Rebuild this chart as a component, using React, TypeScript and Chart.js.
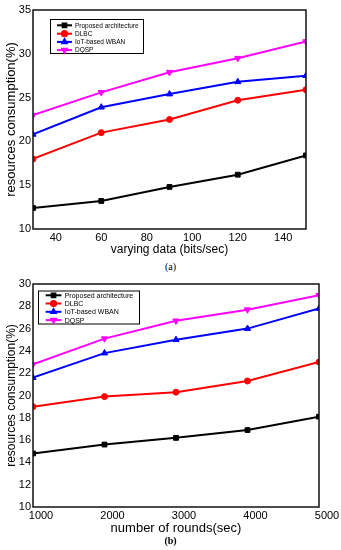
import React, { useEffect, useRef } from "react";
import { Chart, registerables } from "chart.js";
import { drawPoint } from "chart.js/helpers";

Chart.register(...registerables);

const FONT = "'Liberation Sans', Arial, sans-serif";

const seriesLabels = ["Proposed architecture", "DLBC", "IoT-based WBAN", "DQSP"];
const seriesColors = ["#000000", "#ff0000", "#0000ff", "#ff00ff"];
const seriesStyles = ["rect", "circle", "triangle", "triangle"];
const seriesRotations = [0, 0, 0, 180];
const seriesRadii = [3.4, 3, 3.6, 3.6];

// Chart (a)
const xA = [30, 60, 90, 120, 150];
const xTicksA = [40, 60, 80, 100, 120, 140];
const proposedA = [12.4, 13.2, 14.8, 16.2, 18.4];
const dlbcA = [18.0, 21.0, 22.5, 24.7, 25.9];
const iotA = [20.8, 23.9, 25.4, 26.8, 27.5];
const dqspA = [23.0, 25.6, 27.9, 29.5, 31.4];

// Chart (b)
const xB = [1000, 2000, 3000, 4000, 5000];
const proposedB = [14.8, 15.6, 16.2, 16.9, 18.1];
const dlbcB = [19.0, 19.9, 20.3, 21.3, 23.0];
const iotB = [21.6, 23.8, 25.0, 26.0, 27.8];
const dqspB = [22.8, 25.1, 26.7, 27.7, 29.0];

const yTitle = "resources consumption(%)";
const xTitleA = "varying data (bits/sec)";
const xTitleB = "number of rounds(sec)";

const framePlugin = {
  id: "frame",
  afterDraw(chart: any) {
    const { ctx, chartArea: a } = chart;
    ctx.save();
    ctx.strokeStyle = "#111";
    ctx.lineWidth = 1.5;
    ctx.strokeRect(a.left, a.top, a.right - a.left, a.bottom - a.top);
    ctx.restore();
  },
};

const boxLegendPlugin = {
  id: "boxLegend",
  afterDraw(chart: any, _args: any, o: any) {
    const { ctx, chartArea: a } = chart;
    const bx = a.left + o.dx;
    const by = a.top + o.dy;
    ctx.save();
    ctx.fillStyle = "#fff";
    ctx.fillRect(bx, by, o.w, o.h);
    ctx.strokeStyle = "#000";
    ctx.lineWidth = 1;
    ctx.strokeRect(bx + 0.5, by + 0.5, o.w, o.h);
    chart.data.datasets.forEach((ds: any, i: number) => {
      const y = by + o.rows[i];
      ctx.strokeStyle = ds.borderColor;
      ctx.lineWidth = 2;
      ctx.beginPath();
      ctx.moveTo(bx + o.line[0], y);
      ctx.lineTo(bx + o.line[1], y);
      ctx.stroke();
      ctx.fillStyle = ds.borderColor;
      ctx.strokeStyle = ds.borderColor;
      drawPoint(
        ctx,
        { pointStyle: ds.pointStyle, rotation: ds.pointRotation, radius: o.markerR, borderWidth: 1 } as any,
        bx + (o.line[0] + o.line[1]) / 2,
        y
      );
      ctx.fillStyle = "#000";
      ctx.font = `${o.font}px ${FONT}`;
      ctx.textBaseline = "middle";
      ctx.textAlign = "left";
      ctx.fillText(ds.label, bx + o.text, y + 0.5);
    });
    ctx.restore();
  },
};

function buildConfig(p: any) {
  return {
    type: "line",
    data: {
      datasets: seriesLabels.map((label, i) => ({
        label,
        data: p.x.map((x: number, j: number) => ({ x, y: p.series[i][j] })),
        borderColor: seriesColors[i],
        backgroundColor: seriesColors[i],
        pointBackgroundColor: seriesColors[i],
        pointBorderColor: seriesColors[i],
        pointStyle: seriesStyles[i],
        pointRotation: seriesRotations[i],
        pointRadius: seriesRadii[i],
        pointBorderWidth: 1,
        borderWidth: 2,
        tension: 0,
      })),
    },
    options: {
      animation: false,
      responsive: false,
      maintainAspectRatio: false,
      layout: { padding: p.padding },
      plugins: {
        legend: { display: false },
        tooltip: { enabled: false },
        boxLegend: p.legend,
      },
      scales: {
        x: {
          type: "linear",
          min: p.xMin,
          max: p.xMax,
          grid: { display: false, drawTicks: false },
          border: { display: false },
          afterBuildTicks: p.xTicks
            ? (s: any) => {
                s.ticks = p.xTicks.map((v: number) => ({ value: v }));
              }
            : undefined,
          ticks: {
            stepSize: p.xStep,
            autoSkip: false,
            maxRotation: 0,
            padding: 2,
            labelOffset: p.xLabelOffset || 0,
            color: "#000",
            font: { family: FONT, size: 11 },
            callback: (v: any) => String(v),
          },
          title: {
            display: true,
            text: p.xTitle,
            color: "#000",
            font: { family: FONT, size: p.xTitleSize },
          },
          afterFit: (s: any) => {
            s.height = p.xAxisH;
          },
        },
        y: {
          type: "linear",
          min: p.yMin,
          max: p.yMax,
          grid: { display: false, drawTicks: false },
          border: { display: false },
          ticks: {
            stepSize: p.yStep,
            autoSkip: false,
            padding: 2,
            color: "#000",
            font: { family: FONT, size: 11 },
            callback: (v: any) => String(v),
          },
          title: {
            display: true,
            text: yTitle,
            color: "#000",
            font: { family: FONT, size: p.yTitleSize },
          },
          afterFit: (s: any) => {
            s.width = 33;
          },
        },
      },
    },
    plugins: [framePlugin, boxLegendPlugin],
  };
}

function LineChart({ cfg, width, height }: { cfg: any; width: number; height: number }) {
  const ref = useRef<HTMLCanvasElement | null>(null);
  useEffect(() => {
    if (!ref.current) return;
    const chart = new Chart(ref.current, cfg);
    return () => chart.destroy();
  }, [cfg]);
  return <canvas ref={ref} width={width} height={height} style={{ display: "block", width, height }} />;
}

const cfgA = buildConfig({
  x: xA,
  series: [proposedA, dlbcA, iotA, dqspA],
  xMin: 30,
  xMax: 150,
  xTicks: xTicksA,
  yMin: 10,
  yMax: 35,
  yStep: 5,
  xTitle: xTitleA,
  xTitleSize: 12,
  yTitleSize: 13,
  xAxisH: 32,
  padding: { top: 10, right: 35, left: 0, bottom: 0 },
  legend: { dx: 17, dy: 9, w: 93, h: 34, rows: [6.3, 14.7, 22.9, 31.1], line: [7, 22], text: 25, font: 6.5, markerR: 2.6 },
});

const cfgB = buildConfig({
  x: xB,
  series: [proposedB, dlbcB, iotB, dqspB],
  xMin: 1000,
  xMax: 5000,
  xStep: 1000,
  xLabelOffset: 8,
  yMin: 10,
  yMax: 30,
  yStep: 2,
  xTitle: xTitleB,
  xTitleSize: 13,
  yTitleSize: 12,
  xAxisH: 33,
  padding: { top: 14, right: 22, left: 0, bottom: 0 },
  legend: { dx: 5, dy: 6.5, w: 101, h: 33, rows: [4.8, 13, 21.3, 29.6], line: [7.7, 23.4], text: 26.7, font: 7, markerR: 2.6 },
});

export default function App() {
  return (
    <div style={{ position: "fixed", left: 0, top: 0, width: 341, height: 550, background: "#fff", overflow: "hidden" }}>
      <div style={{ position: "absolute", left: 0, top: 0 }}>
        <LineChart cfg={cfgA} width={341} height={261} />
      </div>
      <div
        style={{
          position: "absolute",
          left: 0,
          top: 261,
          width: 341,
          textAlign: "center",
          font: "10px 'Liberation Serif', serif",
          lineHeight: "12px",
          color: "#000",
        }}
      >
        (a)
      </div>
      <div style={{ position: "absolute", left: 0, top: 270 }}>
        <LineChart cfg={cfgB} width={341} height={270} />
      </div>
      <div
        style={{
          position: "absolute",
          left: 0,
          top: 535,
          width: 341,
          textAlign: "center",
          font: "bold 10px 'Liberation Serif', serif",
          lineHeight: "12px",
          color: "#000",
        }}
      >
        (b)
      </div>
    </div>
  );
}
